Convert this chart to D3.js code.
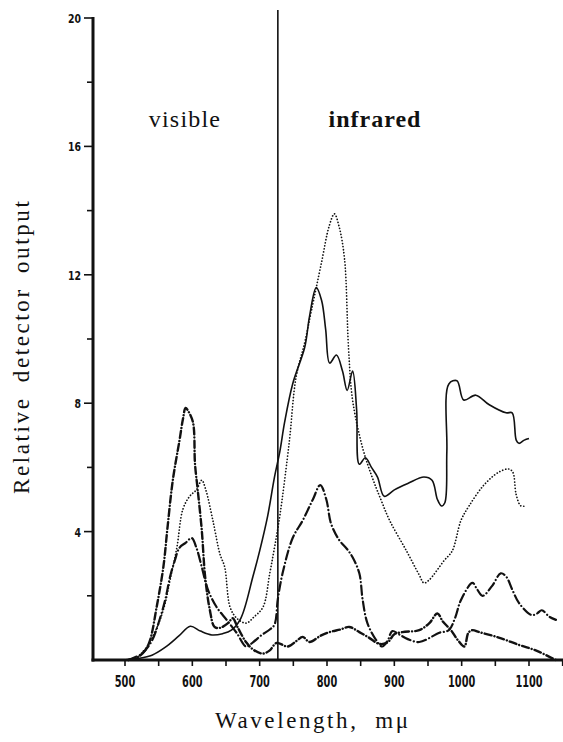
<!DOCTYPE html>
<html>
<head>
<meta charset="utf-8">
<script src="https://cdn.jsdelivr.net/npm/d3@7.9.0/dist/d3.min.js"></script>
<style>
    body { margin: 0; background: #fff; }
    svg { display: block; }
    .tick-label { font-family: "DejaVu Sans Condensed", "DejaVu Sans", sans-serif; font-weight: bold; fill: #111; }
    .title { font-family: "Liberation Serif", "DejaVu Serif", serif; fill: #111; }
</style>
</head>
<body>
<svg id="chart" width="563" height="742"></svg>
<script>
// solid curve
let solidW = [497, 520, 540, 560, 580, 597, 612, 629, 645, 658, 672, 690, 700, 712, 722, 730, 737, 749, 767, 774, 784, 792, 798, 804, 814, 823, 830, 838, 844, 848, 857, 866, 875, 885, 900, 920, 944, 956, 964, 970, 975, 978, 981, 993, 1003, 1021, 1041, 1066, 1075, 1081, 1085, 1093, 1100];
let solidV = [0, 0.05, 0.15, 0.4, 0.75, 1.05, 0.9, 0.78, 0.82, 0.93, 1.3, 2.6, 3.4, 4.5, 5.7, 6.5, 7.4, 8.6, 9.75, 10.7, 11.6, 11.2, 10.3, 9.25, 9.5, 9.0, 8.4, 9.0, 7.8, 6.1, 6.3, 6.0, 5.7, 5.1, 5.3, 5.5, 5.7, 5.6, 5.0, 4.8, 4.9, 6.5, 8.6, 8.7, 8.1, 8.25, 7.95, 7.7, 7.7, 6.85, 6.75, 6.85, 6.9];

// fine dotted curve
let dotW = [515, 532, 545, 552, 560, 567, 577, 586, 596, 606, 614, 620, 631, 641, 648, 656, 666, 680, 692, 705, 715, 722, 730, 744, 754, 767, 777, 792, 803, 811, 818, 826, 832, 838, 853, 867, 880, 893, 918, 937, 944, 952, 974, 986, 999, 1011, 1033, 1055, 1070, 1076, 1081, 1088, 1095];
let dotV = [0, 0.4, 0.9, 1.25, 1.8, 2.5, 3.5, 4.7, 5.1, 5.3, 5.6, 5.3, 4.3, 3.3, 2.9, 1.65, 1.3, 1.15, 1.35, 1.65, 2.7, 3.5, 4.5, 6.8, 8.8, 9.9, 10.9, 12.4, 13.5, 13.9, 13.5, 12.5, 9.7, 8.1, 6.6, 5.7, 5.0, 4.35, 3.4, 2.65, 2.4, 2.5, 3.1, 3.4, 4.35, 4.8, 5.45, 5.85, 5.95, 5.85, 5.15, 4.8, 4.8];

// heavy dash-dot curve (tall visible peak)
let dashDotW = [505, 520, 530, 537, 547, 557, 563, 571, 581, 586, 590, 594, 601, 604, 608, 614, 619, 626, 633, 641, 653, 660, 667, 680, 692, 705, 715, 725, 742, 755, 764, 774, 790, 804, 820, 833, 848, 862, 878, 890, 900, 912, 937, 952, 964, 972, 984, 995, 1004, 1010, 1016, 1026, 1055, 1085, 1110, 1134, 1140];
let dashDotV = [0, 0.1, 0.3, 0.6, 1.65, 2.9, 4.1, 5.6, 6.85, 7.5, 7.85, 7.75, 7.4, 6.1, 5.3, 4.05, 2.6, 1.56, 1.03, 1.0, 1.15, 1.3, 1.03, 0.55, 0.3, 0.2, 0.3, 0.53, 0.42, 0.6, 0.72, 0.56, 0.75, 0.87, 0.95, 1.03, 0.87, 0.7, 0.5, 0.55, 0.8, 0.87, 0.93, 1.15, 1.45, 1.2, 0.93, 0.6, 0.42, 0.85, 0.93, 0.87, 0.7, 0.47, 0.3, 0.06, 0];

// dash-dot curve with infrared peak
let dashW = [505, 525, 540, 552, 560, 567, 574, 581, 590, 599, 606, 614, 623, 636, 651, 666, 680, 690, 703, 715, 722, 727, 734, 749, 764, 779, 790, 799, 806, 818, 830, 838, 848, 853, 860, 873, 882, 890, 897, 907, 920, 937, 967, 981, 990, 999, 1016, 1023, 1031, 1045, 1058, 1066, 1075, 1085, 1104, 1112, 1119, 1130, 1140];
let dashV = [0, 0.2, 0.6, 1.3, 1.9, 2.6, 3.1, 3.5, 3.65, 3.8, 3.5, 2.9, 2.2, 1.65, 1.25, 0.84, 0.42, 0.55, 0.78, 0.95, 1.1, 1.9, 2.7, 3.8, 4.35, 5.0, 5.45, 5.0, 4.25, 3.74, 3.45, 3.2, 2.7, 1.87, 1.15, 0.62, 0.42, 0.6, 0.9, 0.8, 0.65, 0.56, 0.85, 0.93, 1.3, 1.87, 2.4, 2.2, 2.0, 2.3, 2.7, 2.6, 2.2, 1.78, 1.4, 1.45, 1.55, 1.35, 1.25];

let xTicks = [500, 550, 600, 650, 700, 750, 800, 850, 900, 950, 1000, 1050, 1100, 1150];
let xLabels = [500, 600, 700, 800, 900, 1000, 1100];
let yTicks = [2, 4, 6, 8, 10, 12, 14, 16, 18, 20];
let yLabels = [4, 8, 12, 16, 20];
let boundary = 727;

let svg = d3.select('#chart');

let x = d3.scaleLinear().domain([500, 1100]).range([125, 529]);
let y = d3.scaleLinear().domain([0, 20]).range([660, 18]);

let x0 = 93;
let xEnd = 563;

// series
let series = [
    { w: solidW, v: solidV, width: 1.6, dash: null, cap: 'butt' },
    { w: dotW, v: dotV, width: 1.7, dash: '0.1 3', cap: 'round' },
    { w: dashDotW, v: dashDotV, width: 2.4, dash: '7 3 0.1 3', cap: 'round' },
    { w: dashW, v: dashV, width: 2.2, dash: '9 3.5 0.1 3.5', cap: 'round' },
];

let line = d3.line()
    .x((d) => x(d[0]))
    .y((d) => y(d[1]))
    .curve(d3.curveCatmullRom.alpha(0.5));

series.forEach((s) => {
    let pts = s.w.map((w, i) => [w, s.v[i]]);
    svg.append('path')
        .attr('d', line(pts))
        .attr('fill', 'none')
        .attr('stroke', '#111')
        .attr('stroke-width', s.width)
        .attr('stroke-linecap', s.cap)
        .attr('stroke-linejoin', 'round')
        .attr('stroke-dasharray', s.dash);
});

// boundary line between visible and infrared
svg.append('line')
    .attr('x1', x(boundary)).attr('x2', x(boundary))
    .attr('y1', 10).attr('y2', y(0))
    .attr('stroke', '#111')
    .attr('stroke-width', 1.6);

// axes
svg.append('line')
    .attr('x1', x0).attr('x2', x0)
    .attr('y1', y(20) - 1).attr('y2', y(0) + 1.5)
    .attr('stroke', '#111').attr('stroke-width', 3);

svg.append('line')
    .attr('x1', x0 - 1.5).attr('x2', xEnd)
    .attr('y1', y(0)).attr('y2', y(0))
    .attr('stroke', '#111').attr('stroke-width', 3);

yTicks.forEach((t) => {
    let major = yLabels.includes(t);
    svg.append('line')
        .attr('x1', x0 - (major ? 9 : 6)).attr('x2', x0)
        .attr('y1', y(t)).attr('y2', y(t))
        .attr('stroke', '#111').attr('stroke-width', 1.6);
});

// narrow bold digits, squeezed horizontally
yLabels.forEach((t) => {
    svg.append('text')
        .attr('class', 'tick-label')
        .attr('font-size', 13)
        .attr('transform', `translate(${x0 - 12},${y(t) + 5}) scale(0.8,1)`)
        .attr('text-anchor', 'end')
        .text(t);
});

xTicks.forEach((t) => {
    svg.append('line')
        .attr('x1', x(t)).attr('x2', x(t))
        .attr('y1', y(0)).attr('y2', y(0) + 6)
        .attr('stroke', '#111').attr('stroke-width', 1.6);
});

xLabels.forEach((t) => {
    svg.append('text')
        .attr('class', 'tick-label')
        .attr('font-size', 16)
        .attr('transform', `translate(${x(t)},${y(0) + 27}) scale(0.68,1)`)
        .attr('text-anchor', 'middle')
        .text(t);
});

// region labels
svg.append('text')
    .attr('class', 'title')
    .attr('x', 185).attr('y', 127)
    .attr('text-anchor', 'middle')
    .attr('font-size', 24)
    .attr('letter-spacing', 1.2)
    .text('visible');

svg.append('text')
    .attr('class', 'title')
    .attr('x', 375).attr('y', 127)
    .attr('text-anchor', 'middle')
    .attr('font-size', 24)
    .attr('font-weight', 'bold')
    .attr('letter-spacing', 1)
    .text('infrared');

// axis titles
svg.append('text')
    .attr('class', 'title')
    .attr('x', 215).attr('y', 728)
    .attr('font-size', 23)
    .attr('textLength', 193)
    .attr('lengthAdjust', 'spacing')
    .attr('xml:space', 'preserve')
    .text('Wavelength,  m\u03bc');

svg.append('text')
    .attr('class', 'title')
    .attr('transform', 'translate(29,494) rotate(-90)')
    .attr('font-size', 23)
    .attr('letter-spacing', 2.6)
    .attr('word-spacing', 6)
    .text('Relative detector output');
</script>
</body>
</html>
